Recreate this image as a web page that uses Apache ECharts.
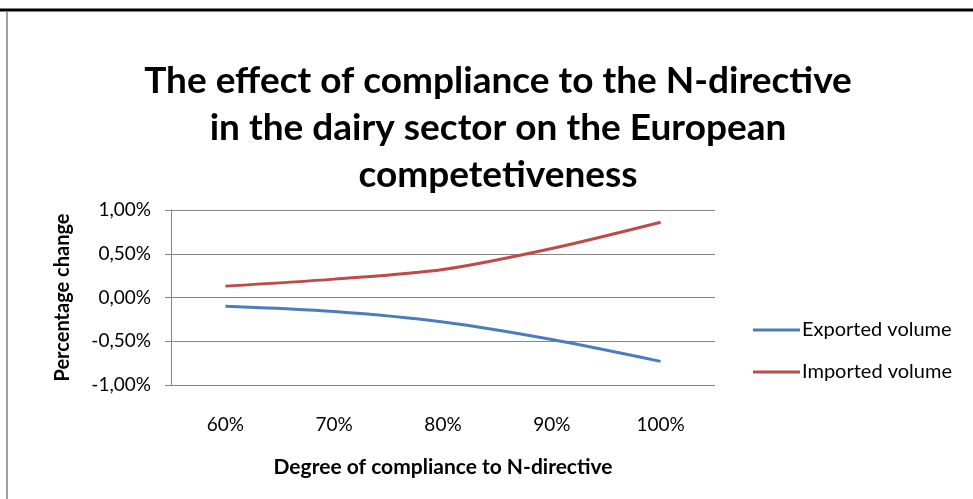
<!DOCTYPE html>
<html><head><meta charset="utf-8">
<script src="https://cdn.jsdelivr.net/npm/echarts@6/dist/echarts.min.js"></script>
<style>html,body{margin:0;padding:0;background:#fff}#c{width:973px;height:499px}</style>
</head><body><div id="c"></div>
<script>
const categories = ['60%', '70%', '80%', '90%', '100%'];
const exportedVolume = [-0.10, -0.16, -0.28, -0.48, -0.73];
const importedVolume = [0.13, 0.21, 0.32, 0.56, 0.86];
const seriesNames = ['Exported volume', 'Imported volume'];
const yTicks = [-1, -0.5, 0, 0.5, 1];

const fontFam = 'Lato, "Open Sans", sans-serif';
const chart = echarts.init(document.getElementById('c'));
chart.setOption({
  animation: false,
  backgroundColor: '#fff',
  title: {
    text: 'The effect of compliance to the N-directive\nin the dairy sector on the European\ncompetetiveness',
    left: 493, top: 53, textAlign: 'center',
    textStyle: { fontFamily: fontFam, fontWeight: 'bold', fontSize: 37, lineHeight: 47, color: '#000' }
  },
  legend: {
    orient: 'vertical', left: 748, top: 315,
    itemWidth: 47, itemHeight: 20, itemGap: 22,
    icon: 'path://M0,8.5 L47,8.5 L47,11.5 L0,11.5 Z',
    textStyle: { fontFamily: fontFam, fontSize: 20, color: '#000', padding: [0, 0, 0, -3] },
    data: seriesNames
  },
  grid: { left: 171, right: 258, top: 210, bottom: 114 },
  xAxis: {
    type: 'category', data: categories, boundaryGap: true,
    axisLine: { show: false }, axisTick: { show: false },
    axisLabel: { margin: 30, fontFamily: fontFam, fontSize: 19, color: '#000' },
    name: 'Degree of compliance to N-directive', nameLocation: 'middle', nameGap: 72,
    nameTextStyle: { fontFamily: fontFam, fontWeight: 'bold', fontSize: 21, color: '#000' }
  },
  yAxis: {
    type: 'value', min: yTicks[0], max: yTicks[yTicks.length - 1], interval: 0.5,
    axisLine: { show: true, lineStyle: { color: '#868686', width: 1 } },
    axisTick: { show: true, length: 6, lineStyle: { color: '#868686' } },
    splitLine: { lineStyle: { color: '#868686', width: 1 } },
    axisLabel: { margin: 20, fontFamily: fontFam, fontSize: 19, color: '#000',
      formatter: v => v.toFixed(2).replace('.', ',') + '%' },
    name: 'Percentage change', nameLocation: 'middle', nameGap: 98,
    nameTextStyle: { fontFamily: fontFam, fontWeight: 'bold', fontSize: 20, color: '#000' }
  },
  series: [
    { name: seriesNames[0], type: 'line', data: exportedVolume, smooth: 0.3, symbol: 'none',
      lineStyle: { color: '#4a7ebb', width: 3 }, itemStyle: { color: '#4a7ebb' } },
    { name: seriesNames[1], type: 'line', data: importedVolume, smooth: 0.3, symbol: 'none',
      lineStyle: { color: '#be4b48', width: 3 }, itemStyle: { color: '#be4b48' } }
  ],
  graphic: [
    { type: 'line', shape: { x1: 0, y1: 10, x2: 973, y2: 10 }, style: { stroke: '#000', lineWidth: 3 } },
    { type: 'line', shape: { x1: 7, y1: 12, x2: 7, y2: 499 }, style: { stroke: '#a0a0a0', lineWidth: 2 } }
  ]
});
</script></body></html>
